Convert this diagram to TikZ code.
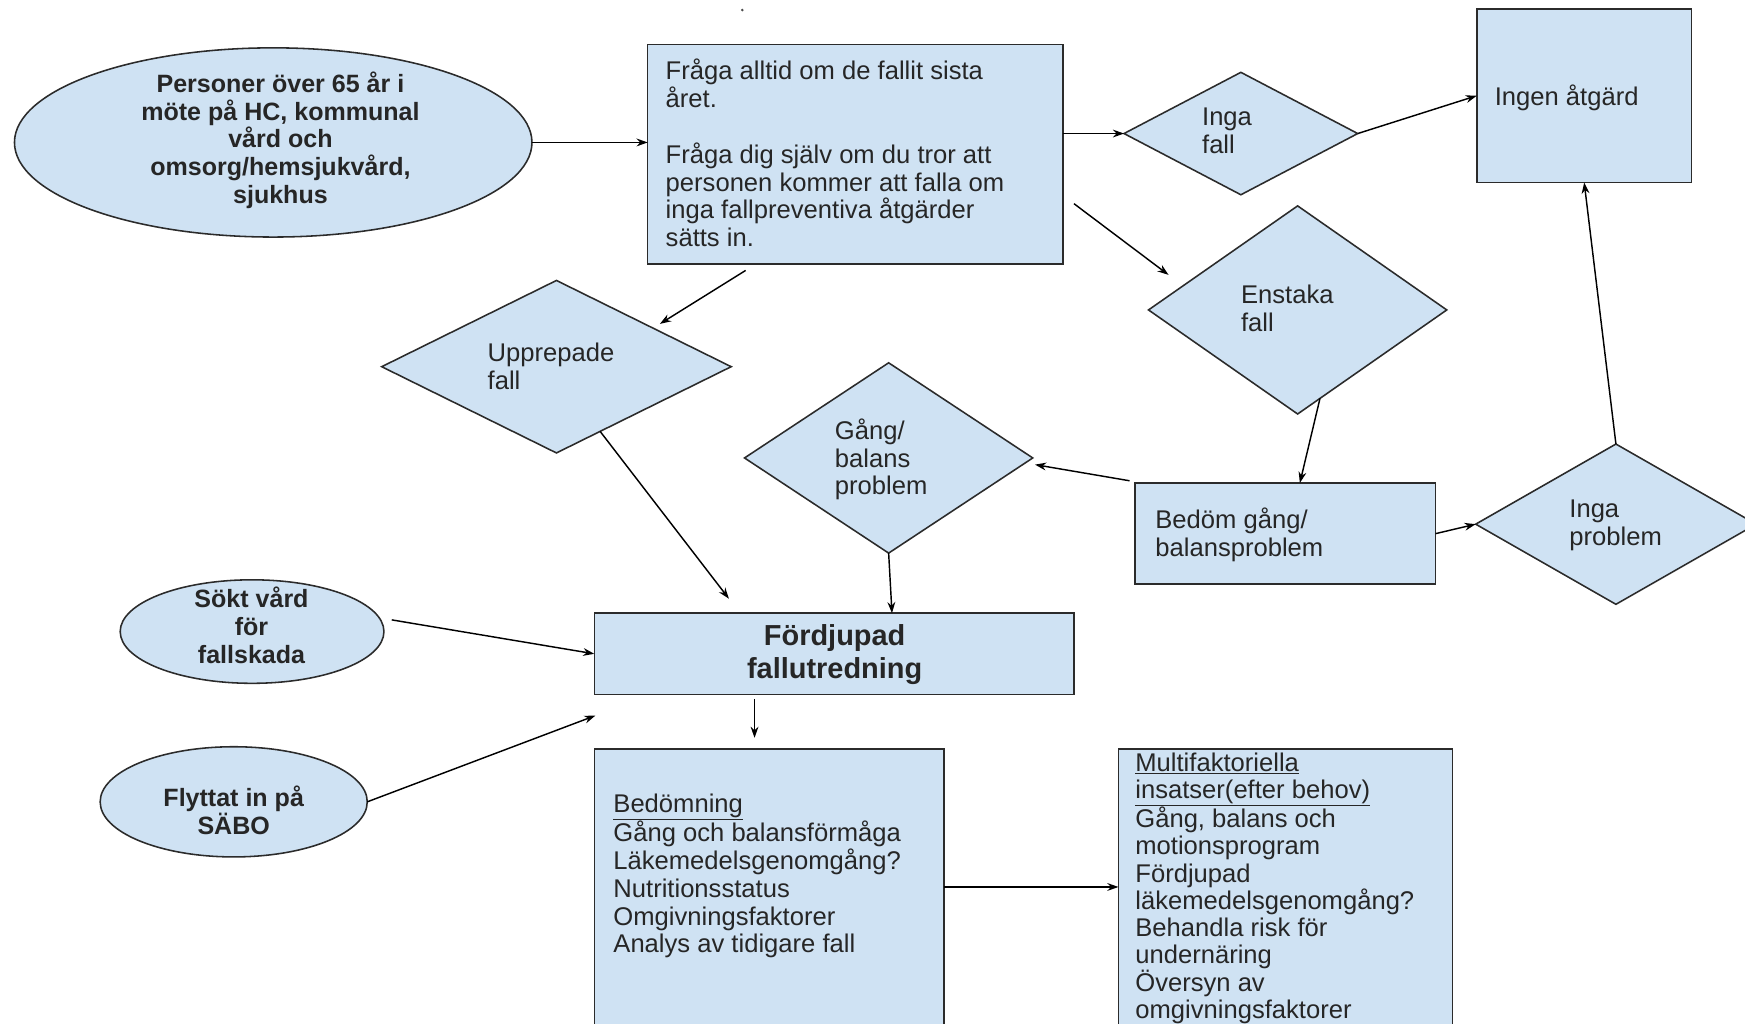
\documentclass[tikz,border=0pt]{standalone}
\usepackage{fontspec}
\setmainfont{Liberation Sans}
\usetikzlibrary{shapes.geometric,arrows.meta,calc}
\definecolor{boxblue}{HTML}{CFE2F3}
\definecolor{edgec}{HTML}{2B2B2B}
\begin{document}
\begin{tikzpicture}[x=1pt,y=-1pt,
 shp/.style={draw=edgec,fill=boxblue,line width=1.4pt,inner sep=0pt,outer sep=0pt},
 box/.style={shp,rectangle},
 dia/.style={shp,diamond},
 ell/.style={shp,ellipse},
 txt/.style={font=\fontsize{23pt}{25pt}\selectfont,align=left,inner sep=0pt,anchor=north west,text=black!85},
 btxt/.style={font=\fontsize{22.5pt}{25pt}\selectfont\bfseries,align=center,inner sep=0pt,text=black!85},
 arr/.style={draw=black,line width=1.3pt,-{Stealth[length=10pt,width=7pt]}}]
\useasboundingbox (0,0) rectangle (1568,920);
\clip (0,0) rectangle (1568,920);
\fill[white] (0,0) rectangle (1568,920);
% shapes
\node[ell,minimum width=465pt,minimum height=170pt] (E1) at (245.5,128) {};
\node[box,minimum width=373pt,minimum height=197pt] (Q) at (768.5,138.5) {};
\node[dia,minimum width=210pt,minimum height=110pt] (D1) at (1115,120) {};
\node[box,minimum width=193pt,minimum height=156pt] (B2) at (1423.5,86) {};
\node[dia,minimum width=268pt,minimum height=187pt] (D2) at (1166,278.5) {};
\node[dia,minimum width=314pt,minimum height=155pt] (D3) at (500,329.5) {};
\node[dia,minimum width=259pt,minimum height=171pt] (D4) at (798.5,411.5) {};
\node[box,minimum width=270pt,minimum height=91pt] (B3) at (1155,479.5) {};
\node[dia,minimum width=252pt,minimum height=144pt] (D5) at (1452,471) {};
\node[box,minimum width=431pt,minimum height=73pt] (F) at (749.5,587.5) {};
\node[ell,minimum width=237pt,minimum height=93pt] (E2) at (226.5,567.5) {};
\node[ell,minimum width=240pt,minimum height=99pt] (E3) at (210,720.5) {};
\node[box,minimum width=314pt,minimum height=287pt] (B4) at (691,816.5) {};
\node[box,minimum width=300pt,minimum height=287pt] (B5) at (1155,816.5) {};
% speck
\fill[black!70] (667,9) circle (1.3);
% texts
\node[btxt] (tE1) at (252,126) {Personer över 65 år i\\möte på HC, kommunal\\vård och\\omsorg/hemsjukvård,\\sjukhus};
\node[txt] (tQ) at (598,53) {Fråga alltid om de fallit sista\\året.\\[25pt]Fråga dig själv om du tror att\\personen kommer att falla om\\inga fallpreventiva åtgärder\\sätts in.};
\node[txt] (tD1) at (1080,97) {Inga\\fall};
\node[txt] (tB2) at (1343,76) {Ingen åtgärd};
\node[txt] (tD2) at (1115,256) {Enstaka\\fall};
\node[txt] (tD3) at (438,308) {Upprepade\\fall};
\node[txt] (tD4) at (750,376) {Gång/\\balans\\problem};
\node[txt] (tB3) at (1038,456) {Bedöm gång/\\balansproblem};
\node[txt] (tD5) at (1410,449) {Inga\\problem};
\node[btxt,font=\fontsize{26pt}{30pt}\selectfont\bfseries] (tF) at (750,588) {Fördjupad\\fallutredning};
\node[btxt] (tE2) at (226,562) {Sökt vård\\för\\fallskada};
\node[btxt] (tE3) at (210,728) {Flyttat in på\\SÄBO};
\node[txt] (tB4) at (551,713) {\underline{Bedömning}\\Gång och balansförmåga\\Läkemedelsgenomgång?\\Nutritionsstatus\\Omgivningsfaktorer\\Analys av tidigare fall};
\node[txt,font=\fontsize{23pt}{24.5pt}\selectfont] (tB5) at (1020,676) {\underline{Multifaktoriella}\\\underline{insatser(efter behov)}\\Gång, balans och\\motionsprogram\\Fördjupad\\läkemedelsgenomgång?\\Behandla risk för\\undernäring\\Översyn av\\omgivningsfaktorer};
% free connector ends
\coordinate (qd2a) at ($(Q.south east)+(10,-54)$);
\coordinate (qd2b) at (1050,247);
\coordinate (qd3a) at (670,243);
\coordinate (qd3b) at (593,291);
\coordinate (d2s) at ($(D2.south)!0.15!(D2.east)$);
\coordinate (b3n) at ($(B3.north)+(13,0)$);
\coordinate (b3a) at ($(B3.north west)+(-5,-2)$);
\coordinate (d4e) at ($(D4.east)+(2,6)$);
\coordinate (d3s) at ($(D3.south)!0.25!(D3.east)$);
\coordinate (fa) at (655,538);
\coordinate (fn) at ($(F.north)+(52,0)$);
\coordinate (e2a) at (352,557);
\coordinate (fb) at (535,643);
\coordinate (fc) at (678,628);
\coordinate (fd) at (678,663);
\coordinate (b4r) at (848,797);
% connectors
\draw[arr] (E1.east) -- (E1.east -| Q.west);
\draw[arr] (Q.east |- D1.west) -- (D1.west);
\draw[arr] (D1.east) -- (B2.west);
\draw[arr] (qd2a) -- (qd2b);
\draw[arr] (qd3a) -- (qd3b);
\draw[arr] (d2s) -- (b3n);
\draw[arr] (b3a) -- (d4e);
\draw[arr] (B3.east) -- (D5.west);
\draw[arr] (D5.north) -- (B2.south);
\draw[arr] (d3s) -- (fa);
\draw[arr] (D4.south) -- (fn);
\draw[arr] (e2a) -- (F.west);
\draw[arr] (E3.east) -- (fb);
\draw[arr] (fc) -- (fd);
\draw[arr] (b4r) -- (b4r -| B5.west);
\end{tikzpicture}
\end{document}
